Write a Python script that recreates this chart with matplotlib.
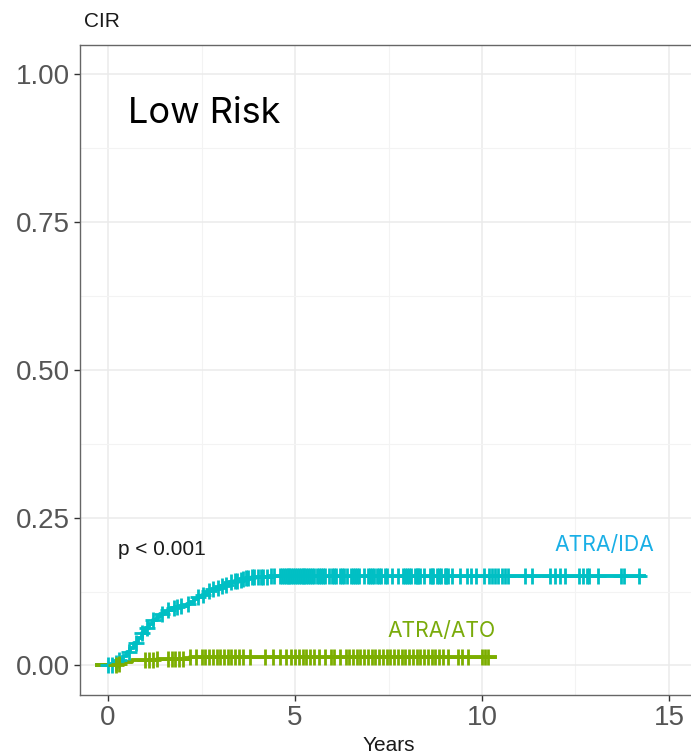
import numpy as np
import matplotlib
matplotlib.use("Agg")
import matplotlib.pyplot as plt
from matplotlib.ticker import MultipleLocator

# cumulative incidence of relapse, step curves (time in years, value)
ida_t = [-0.3, 0.15, 0.3, 0.4, 0.5, 0.6, 0.7, 0.8, 0.9, 1.0, 1.1, 1.2, 1.3, 1.4,
         1.5, 1.6, 1.7, 1.8, 1.9, 2.0, 2.1, 2.2, 2.3, 2.4, 2.5, 2.6, 2.7, 2.8,
         2.9, 3.0, 3.1, 3.2, 3.3, 3.4, 3.5, 3.6, 3.7, 3.85, 4.0, 4.3, 4.6, 14.33]
ida_y = [0.0, 0.004, 0.010, 0.016, 0.022, 0.030, 0.038, 0.046, 0.055, 0.063, 0.070,
         0.077, 0.082, 0.087, 0.091, 0.094, 0.097, 0.099, 0.100, 0.101, 0.104,
         0.108, 0.112, 0.116, 0.120, 0.123, 0.126, 0.129, 0.131, 0.134, 0.136,
         0.138, 0.141, 0.143, 0.145, 0.147, 0.148, 0.149, 0.150, 0.1505, 0.151, 0.151]

ato_t = [-0.3, 0.25, 0.45, 0.65, 1.3, 2.2, 10.35]
ato_y = [0.0, 0.003, 0.006, 0.010, 0.011, 0.014, 0.014]

# censoring times
ida_cens = [0.0, 0.1, 0.2, 0.3, 0.55, 0.75, 0.9, 1.05, 1.2, 1.45, 1.6, 1.75, 1.85,
            1.95, 2.15, 2.4, 2.55, 2.7, 2.8, 2.95, 3.05, 3.15, 3.3, 3.4, 3.45, 3.55,
            3.6, 3.7, 3.75, 3.85, 3.9, 4.0, 4.1, 4.15, 4.25, 4.35, 4.45, 4.6, 4.65,
            4.7, 4.75, 4.8, 4.85, 4.9, 4.95, 5.0, 5.05, 5.1, 5.15, 5.2, 5.25, 5.3,
            5.35, 5.4, 5.45, 5.5, 5.6, 5.65, 5.7, 5.75, 5.8, 5.9, 6.0, 6.05, 6.1,
            6.2, 6.25, 6.3, 6.4, 6.5, 6.55, 6.6, 6.65, 6.7, 6.85, 6.95, 7.0, 7.05,
            7.1, 7.2, 7.25, 7.3, 7.4, 7.45, 7.6, 7.75, 7.9, 7.95, 8.0, 8.05, 8.1,
            8.2, 8.25, 8.3, 8.35, 8.45, 8.6, 8.65, 8.7, 8.8, 8.85, 8.9, 9.0, 9.05,
            9.1, 9.2, 9.4, 9.6, 9.7, 9.85, 10.05, 10.2, 10.26, 10.35, 10.44, 10.53,
            10.61, 10.7, 11.15, 11.35, 11.82, 11.95, 12.09, 12.22, 12.6, 12.69,
            12.8, 12.87, 13.11, 13.72, 13.8, 14.2]
ato_cens = [0.2, 0.3, 1.0, 1.1, 1.2, 1.3, 1.6, 1.7, 1.8, 1.9, 2.0, 2.2, 2.35, 2.5,
            2.6, 2.7, 2.8, 2.9, 3.0, 3.1, 3.2, 3.3, 3.4, 3.5, 3.6, 3.8, 4.2, 4.4,
            4.6, 4.75, 4.9, 5.0, 5.1, 5.2, 5.3, 5.4, 5.5, 5.65, 5.8, 5.95, 6.05,
            6.2, 6.35, 6.45, 6.55, 6.65, 6.75, 6.85, 6.95, 7.05, 7.15, 7.25, 7.35,
            7.45, 7.55, 7.65, 7.75, 7.85, 7.95, 8.05, 8.15, 8.25, 8.35, 8.45, 8.55,
            8.65, 8.75, 8.85, 8.95, 9.09, 9.36, 9.47, 9.63, 10.0, 10.08, 10.16]

teal = "#00BFC4"
green = "#7CAE00"


def step_at(t, ts, ys):
    idx = np.searchsorted(ts, t, side="right") - 1
    return np.asarray(ys)[np.clip(idx, 0, len(ys) - 1)]


fig = plt.figure(figsize=(6.91, 7.55), dpi=100)
ax = fig.add_axes([0.1158, 0.0795, 0.8929, 0.861])

ax.step(ida_t, ida_y, where="post", color=teal, lw=2.8, zorder=3)
ax.step(ato_t, ato_y, where="post", color=green, lw=2.8, zorder=3)
ax.plot(ida_cens, step_at(ida_cens, ida_t, ida_y), ls="none", marker="+",
        ms=12, mew=2.0, color=teal, zorder=4)
ax.plot(ato_cens, step_at(ato_cens, ato_t, ato_y), ls="none", marker="+",
        ms=12, mew=2.0, color=green, zorder=4)

ax.set_xlim(-0.75, 15.75)
ax.set_ylim(-0.05, 1.05)
ax.xaxis.set_major_locator(MultipleLocator(5))
ax.xaxis.set_minor_locator(MultipleLocator(2.5))
ax.yaxis.set_minor_locator(MultipleLocator(0.125))
ax.set_yticks([0, 0.25, 0.5, 0.75, 1.0])
ax.set_yticklabels(["0.00", "0.25", "0.50", "0.75", "1.00"])
ax.grid(which="major", color="#EBEBEB", lw=1.1, zorder=0)
ax.grid(which="minor", color="#F3F3F3", lw=0.8, zorder=0)
ax.tick_params(which="major", length=4, width=1, color="#333333",
               labelsize=20, labelcolor="#555555", pad=3,
               labelfontfamily="Liberation Sans")
ax.tick_params(which="minor", length=0)
for s in ax.spines.values():
    s.set_color("#666666")
    s.set_linewidth(1.0)

fig.text(0.147, 0.971, "CIR", fontsize=15, family="Liberation Sans",
         ha="center", va="center", color="#1A1A1A")
fig.text(0.563, 0.013, "Years", fontsize=15, family="Liberation Sans",
         ha="center", va="center", color="#1A1A1A")

ax.text(0.53, 0.934, "Low Risk", fontsize=26, family="Inter", color="black",
        ha="left", va="center")
ax.text(0.27, 0.197, "p < 0.001", fontsize=15, family="Liberation Sans",
        color="#1A1A1A", ha="left", va="center")
ax.text(11.95, 0.204, "ATRA/IDA", fontsize=15.3, family="Inter",
        color="#1AAFE6", ha="left", va="center")
ax.text(7.48, 0.058, "ATRA/ATO", fontsize=15.2, family="Inter",
        color="#7AAB0B", ha="left", va="center")

fig.savefig("out.png", dpi=100)
